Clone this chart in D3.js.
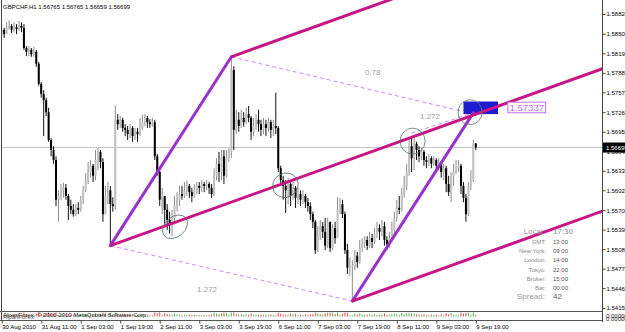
<!DOCTYPE html>
<html>
<head>
<meta charset="utf-8">
<script src="https://cdn.jsdelivr.net/npm/d3@7"></script>
<style>
body { margin: 0; background: #fff; }
svg text { font-family: "Liberation Sans", Arial, sans-serif; }
</style>
</head>
<body>
<div class="chart"></div>
<script>
// GBPCHF H1 bars, 30 Aug 2010 19:00 .. 9 Sep 2010 19:00
var opens = [
  1.5853, 1.5857, 1.5850, 1.5860, 1.5863, 1.5857, 1.5861, 1.5858, 1.5863, 1.5860,
  1.5828, 1.5822, 1.5825, 1.5818, 1.5822, 1.5803, 1.5771, 1.5755, 1.5745, 1.5726,
  1.5682, 1.5666, 1.5650, 1.5587, 1.5593, 1.5602, 1.5606, 1.5593, 1.5577, 1.5571,
  1.5564, 1.5574, 1.5571, 1.5587, 1.5602, 1.5618, 1.5631, 1.5641, 1.5625, 1.5650,
  1.5663, 1.5647, 1.5564, 1.5593, 1.5602, 1.5580, 1.5577, 1.5714, 1.5707, 1.5714,
  1.5701, 1.5698, 1.5691, 1.5701, 1.5688, 1.5695, 1.5691, 1.5701, 1.5710, 1.5717,
  1.5710, 1.5707, 1.5710, 1.5656, 1.5631, 1.5587, 1.5593, 1.5571, 1.5555, 1.5548,
  1.5558, 1.5577, 1.5587, 1.5596, 1.5593, 1.5602, 1.5609, 1.5599, 1.5593, 1.5602,
  1.5609, 1.5606, 1.5612, 1.5609, 1.5612, 1.5606, 1.5596, 1.5625, 1.5644, 1.5631,
  1.5656, 1.5625, 1.5653, 1.5663, 1.5793, 1.5698, 1.5714, 1.5704, 1.5717, 1.5710,
  1.5723, 1.5717, 1.5695, 1.5704, 1.5714, 1.5707, 1.5698, 1.5707, 1.5701, 1.5710,
  1.5698, 1.5704, 1.5701, 1.5637, 1.5618, 1.5609, 1.5602, 1.5612, 1.5593, 1.5606,
  1.5590, 1.5596, 1.5587, 1.5593, 1.5583, 1.5577, 1.5564, 1.5552, 1.5507, 1.5529,
  1.5545, 1.5536, 1.5514, 1.5552, 1.5510, 1.5542, 1.5526, 1.5571, 1.5580, 1.5564,
  1.5507, 1.5479, 1.5482, 1.5482, 1.5498, 1.5488, 1.5510, 1.5517, 1.5523, 1.5514,
  1.5526, 1.5520, 1.5533, 1.5542, 1.5536, 1.5545, 1.5523, 1.5517, 1.5526, 1.5539,
  1.5558, 1.5574, 1.5571, 1.5596, 1.5609, 1.5631, 1.5672, 1.5653, 1.5676, 1.5666,
  1.5656, 1.5663, 1.5650, 1.5647, 1.5653, 1.5644, 1.5650, 1.5641, 1.5644, 1.5631,
  1.5637, 1.5612, 1.5599, 1.5625, 1.5631, 1.5637, 1.5641, 1.5609, 1.5590, 1.5564,
  1.5609, 1.5618, 1.56765
];
var highs = [
  1.5866, 1.5860, 1.5869, 1.5872, 1.5866, 1.5869, 1.5866, 1.5871, 1.5869, 1.5866,
  1.5831, 1.5831, 1.5828, 1.5830, 1.5825, 1.5806, 1.5774, 1.5761, 1.5749, 1.5733,
  1.5685, 1.5672, 1.5656, 1.5602, 1.5612, 1.5614, 1.5612, 1.5596, 1.5587, 1.5580,
  1.5580, 1.5583, 1.5593, 1.5609, 1.5629, 1.5647, 1.5650, 1.5644, 1.5666, 1.5669,
  1.5666, 1.5653, 1.5609, 1.5615, 1.5609, 1.5591, 1.5737, 1.5723, 1.5720, 1.5717,
  1.5707, 1.5704, 1.5707, 1.5704, 1.5701, 1.5701, 1.5717, 1.5722, 1.5723, 1.5720,
  1.5715, 1.5717, 1.5714, 1.5660, 1.5634, 1.5606, 1.5593, 1.5580, 1.5568, 1.5571,
  1.5593, 1.5599, 1.5609, 1.5609, 1.5615, 1.5618, 1.5612, 1.5606, 1.5612, 1.5615,
  1.5615, 1.5618, 1.5615, 1.5618, 1.5615, 1.5612, 1.5637, 1.5653, 1.5663, 1.5666,
  1.5666, 1.5666, 1.5669, 1.5814, 1.5799, 1.5730, 1.5726, 1.5730, 1.5726, 1.5733,
  1.5736, 1.5720, 1.5717, 1.5723, 1.5730, 1.5714, 1.5717, 1.5714, 1.5717, 1.5714,
  1.5714, 1.5757, 1.5704, 1.5641, 1.5625, 1.5618, 1.5622, 1.5615, 1.5618, 1.5609,
  1.5606, 1.5602, 1.5602, 1.5596, 1.5590, 1.5583, 1.5568, 1.5555, 1.5545, 1.5555,
  1.5552, 1.5558, 1.5558, 1.5552, 1.5548, 1.5552, 1.5591, 1.5590, 1.5587, 1.5568,
  1.5517, 1.5495, 1.5491, 1.5507, 1.5504, 1.5523, 1.5526, 1.5529, 1.5529, 1.5536,
  1.5533, 1.5542, 1.5552, 1.5548, 1.5555, 1.5552, 1.5529, 1.5536, 1.5552, 1.5568,
  1.5587, 1.5593, 1.5606, 1.5625, 1.5644, 1.5682, 1.5687, 1.5685, 1.5679, 1.5672,
  1.5669, 1.5666, 1.5656, 1.5660, 1.5656, 1.5656, 1.5653, 1.5653, 1.5647, 1.5644,
  1.5641, 1.5625, 1.5631, 1.5644, 1.5650, 1.5650, 1.5644, 1.5615, 1.5596, 1.5615,
  1.5634, 1.5682, 1.56765
];
var lows = [
  1.5847, 1.5844, 1.5850, 1.5857, 1.5852, 1.5853, 1.5850, 1.5855, 1.5853, 1.5825,
  1.5815, 1.5815, 1.5814, 1.5814, 1.5798, 1.5768, 1.5749, 1.5688, 1.5720, 1.5679,
  1.5656, 1.5644, 1.5577, 1.5552, 1.5587, 1.5590, 1.5587, 1.5555, 1.5564, 1.5560,
  1.5561, 1.5564, 1.5568, 1.5580, 1.5599, 1.5612, 1.5622, 1.5615, 1.5618, 1.5634,
  1.5637, 1.5552, 1.5564, 1.5580, 1.5514, 1.5568, 1.5571, 1.5698, 1.5701, 1.5695,
  1.5688, 1.5682, 1.5685, 1.5679, 1.5682, 1.5679, 1.5688, 1.5698, 1.5704, 1.5701,
  1.5701, 1.5703, 1.5650, 1.5625, 1.5577, 1.5564, 1.5545, 1.5539, 1.5533, 1.5529,
  1.5548, 1.5568, 1.5577, 1.5587, 1.5590, 1.5593, 1.5590, 1.5583, 1.5590, 1.5596,
  1.5596, 1.5599, 1.5599, 1.5602, 1.5596, 1.5590, 1.5593, 1.5618, 1.5615, 1.5618,
  1.5612, 1.5622, 1.5647, 1.5653, 1.5666, 1.5691, 1.5695, 1.5701, 1.5703, 1.5707,
  1.5710, 1.5682, 1.5688, 1.5698, 1.5695, 1.5688, 1.5691, 1.5688, 1.5695, 1.5685,
  1.5688, 1.5691, 1.5631, 1.5609, 1.5587, 1.5566, 1.5580, 1.5577, 1.5587, 1.5574,
  1.5580, 1.5577, 1.5580, 1.5574, 1.5568, 1.5555, 1.5542, 1.5501, 1.5504, 1.5523,
  1.5526, 1.5507, 1.5510, 1.5504, 1.5507, 1.5517, 1.5526, 1.5564, 1.5558, 1.5501,
  1.5469, 1.5466, 1.5426, 1.5475, 1.5479, 1.5485, 1.5504, 1.5510, 1.5507, 1.5510,
  1.5510, 1.5517, 1.5526, 1.5523, 1.5529, 1.5514, 1.5507, 1.5510, 1.5523, 1.5529,
  1.5552, 1.5564, 1.5568, 1.5590, 1.5602, 1.5625, 1.5631, 1.5634, 1.5650, 1.5647,
  1.5650, 1.5641, 1.5637, 1.5641, 1.5637, 1.5641, 1.5631, 1.5634, 1.5622, 1.5618,
  1.5599, 1.5593, 1.5583, 1.5609, 1.5628, 1.5631, 1.5596, 1.5583, 1.5552, 1.5561,
  1.5602, 1.5615, 1.56659
];
var closes = [
  1.5857, 1.5850, 1.5860, 1.5863, 1.5857, 1.5861, 1.5858, 1.5863, 1.5860, 1.5828,
  1.5822, 1.5825, 1.5818, 1.5822, 1.5803, 1.5771, 1.5755, 1.5745, 1.5726, 1.5682,
  1.5666, 1.5650, 1.5587, 1.5593, 1.5602, 1.5606, 1.5593, 1.5577, 1.5571, 1.5564,
  1.5574, 1.5571, 1.5587, 1.5602, 1.5618, 1.5631, 1.5641, 1.5625, 1.5650, 1.5663,
  1.5647, 1.5564, 1.5593, 1.5602, 1.5580, 1.5577, 1.5714, 1.5707, 1.5714, 1.5701,
  1.5698, 1.5691, 1.5701, 1.5688, 1.5695, 1.5691, 1.5701, 1.5710, 1.5717, 1.5710,
  1.5707, 1.5710, 1.5656, 1.5631, 1.5587, 1.5593, 1.5571, 1.5555, 1.5548, 1.5558,
  1.5577, 1.5587, 1.5596, 1.5593, 1.5602, 1.5609, 1.5599, 1.5593, 1.5602, 1.5609,
  1.5606, 1.5612, 1.5609, 1.5612, 1.5606, 1.5596, 1.5625, 1.5644, 1.5631, 1.5656,
  1.5625, 1.5653, 1.5663, 1.5793, 1.5698, 1.5714, 1.5704, 1.5717, 1.5710, 1.5723,
  1.5717, 1.5695, 1.5704, 1.5714, 1.5707, 1.5698, 1.5707, 1.5701, 1.5710, 1.5698,
  1.5704, 1.5701, 1.5637, 1.5618, 1.5609, 1.5602, 1.5612, 1.5593, 1.5606, 1.5590,
  1.5596, 1.5587, 1.5593, 1.5583, 1.5577, 1.5564, 1.5552, 1.5507, 1.5529, 1.5545,
  1.5536, 1.5514, 1.5552, 1.5510, 1.5542, 1.5526, 1.5571, 1.5580, 1.5564, 1.5507,
  1.5479, 1.5482, 1.5482, 1.5498, 1.5488, 1.5510, 1.5517, 1.5523, 1.5514, 1.5526,
  1.5520, 1.5533, 1.5542, 1.5536, 1.5545, 1.5523, 1.5517, 1.5526, 1.5539, 1.5558,
  1.5574, 1.5571, 1.5596, 1.5609, 1.5631, 1.5672, 1.5653, 1.5676, 1.5666, 1.5656,
  1.5663, 1.5650, 1.5647, 1.5653, 1.5644, 1.5650, 1.5641, 1.5644, 1.5631, 1.5637,
  1.5612, 1.5599, 1.5625, 1.5631, 1.5637, 1.5641, 1.5609, 1.5590, 1.5564, 1.5609,
  1.5618, 1.56765, 1.56699
];

// time axis: one label every 16 bars
var timeTickBars = [0, 16, 32, 48, 64, 80, 96, 112, 128, 144, 160, 176, 192];
var timeLabels = ["30 Aug 2010", "31 Aug 11:00", "1 Sep 03:00", "1 Sep 19:00", "2 Sep 11:00",
  "3 Sep 03:00", "3 Sep 19:00", "6 Sep 11:00", "7 Sep 03:00", "7 Sep 19:00",
  "8 Sep 11:00", "9 Sep 03:00", "9 Sep 19:00"];

// price axis labels
var priceTicks = [1.58820, 1.58505, 1.58195, 1.57885, 1.57575, 1.57260, 1.56950, 1.56640,
  1.56330, 1.56020, 1.55705, 1.55395, 1.55085, 1.54775, 1.54465, 1.54150];

// hand drawn objects, in (bar, price)
var pointA = {bar: 44, price: 1.5514};
var pointB = {bar: 93, price: 1.5814};
var pointC = {bar: 142, price: 1.5426};
var pointD = {bar: 191, price: 1.5725};
var medianEnd = {bar: 190, price: 1.5720};
var fibLines = [
  [pointB, {bar: 187, price: 1.5727}],
  [pointA, pointC],
  [{bar: 166, price: 1.5693}, pointD]
];
var fibLabels = [
  {text: "0.78", bar: 147.1, price: 1.5785},
  {text: "1.272", bar: 79.1, price: 1.5441},
  {text: "1.272", bar: 169.4, price: 1.5716}
];
var circled = [
  {bar: 70.2, price: 1.5544},
  {bar: 114.9, price: 1.5610},
  {bar: 166.4, price: 1.5680},
  {bar: 189.7, price: 1.5726}
];
var targetZone = {barFrom: 187, barTo: 201, priceHigh: 1.5743, priceLow: 1.5723};
var targetPrice = 1.57337;

// clock panel
var clockLabels = ["GMT:", "New York:", "London:", "Tokyo:", "Broker:", "Bar:"];
var clockValues = ["13:00", "09:00", "14:00", "22:00", "15:00", "00:00"];
var localTime = "17:30";
var spread = "42";

var symbolTitle = "GBPCHF,H1";

var plotLeft = 2, plotRight = 602, plotBottom = 311, subBottom = 320;

var svg = d3.select(".chart").append("svg")
  .attr("width", 625).attr("height", 332);

var x = d3.scaleLinear().domain([0, 192]).range([1.7, 475.8]);
var y = d3.scaleLinear().domain([1.54150, 1.58820]).range([308, 14]);

svg.append("defs").append("clipPath").attr("id", "plotclip")
  .append("rect").attr("x", plotLeft).attr("y", 0)
  .attr("width", plotRight - plotLeft).attr("height", plotBottom);

var plot = svg.append("g").attr("clip-path", "url(#plotclip)");

var bars = closes.map(function(c, i) {
  return {i: i, o: opens[i], h: highs[i], l: lows[i], c: c};
});
var last = bars[bars.length - 1];

// bid line
plot.append("line")
  .attr("x1", plotLeft).attr("x2", plotRight)
  .attr("y1", y(last.c)).attr("y2", y(last.c))
  .attr("stroke", "#c8c8c8").attr("stroke-width", 1);

// candles
var candle = plot.selectAll("g.candle")
  .data(bars)
  .enter().append("g").attr("class", "candle");

candle.append("line")
  .attr("x1", function(d) { return x(d.i); })
  .attr("x2", function(d) { return x(d.i); })
  .attr("y1", function(d) { return y(d.h); })
  .attr("y2", function(d) { return y(d.l); })
  .attr("stroke", function(d) { return d.c >= d.o ? "#8c8c8c" : "#111"; })
  .attr("stroke-width", 1);

candle.append("rect")
  .attr("x", function(d) { return x(d.i) - 1; })
  .attr("width", 2)
  .attr("y", function(d) { return y(Math.max(d.o, d.c)); })
  .attr("height", function(d) { return Math.max(1, Math.abs(y(d.o) - y(d.c))); })
  .attr("fill", function(d) { return d.c >= d.o ? "#c0c0c0" : "#000"; });

// target zone
plot.append("rect")
  .attr("x", x(targetZone.barFrom)).attr("width", x(targetZone.barTo) - x(targetZone.barFrom))
  .attr("y", y(targetZone.priceHigh)).attr("height", y(targetZone.priceLow) - y(targetZone.priceHigh))
  .attr("fill", "#1c1ccc");

// fib dashed lines
plot.selectAll("line.fib")
  .data(fibLines)
  .enter().append("line")
  .attr("x1", function(d) { return x(d[0].bar); })
  .attr("y1", function(d) { return y(d[0].price); })
  .attr("x2", function(d) { return x(d[1].bar); })
  .attr("y2", function(d) { return y(d[1].price); })
  .attr("stroke", "#c88cf0").attr("stroke-width", 1)
  .attr("stroke-dasharray", "4,3");

plot.selectAll("text.fib")
  .data(fibLabels)
  .enter().append("text")
  .attr("x", function(d) { return x(d.bar); })
  .attr("y", function(d) { return y(d.price); })
  .attr("font-size", 8).attr("fill", "#a0a0a0")
  .text(function(d) { return d.text; });

// swing legs
plot.selectAll("line.leg")
  .data([[pointA, pointB], [pointC, pointD]])
  .enter().append("line")
  .attr("x1", function(d) { return x(d[0].bar); })
  .attr("y1", function(d) { return y(d[0].price); })
  .attr("x2", function(d) { return x(d[1].bar); })
  .attr("y2", function(d) { return y(d[1].price); })
  .attr("stroke", "#9932cc").attr("stroke-width", 3)
  .attr("stroke-linecap", "round");

// parallel channel from A, B and C
var slope = (medianEnd.price - pointA.price) / (medianEnd.bar - pointA.bar);
var farBar = 250;
plot.selectAll("line.channel")
  .data([pointA, pointB, pointC])
  .enter().append("line")
  .attr("x1", function(d) { return x(d.bar); })
  .attr("y1", function(d) { return y(d.price); })
  .attr("x2", x(farBar))
  .attr("y2", function(d) { return y(d.price + slope * (farBar - d.bar)); })
  .attr("stroke", "#c71585").attr("stroke-width", 3);

// circled spots
var ellipseShapes = [
  {rx: 14, ry: 10, rot: -40},
  {rx: 13, ry: 12, rot: -30},
  {rx: 12.5, ry: 13, rot: 0},
  {rx: 12, ry: 12.5, rot: 0}
];
plot.selectAll("ellipse")
  .data(circled)
  .enter().append("ellipse")
  .attr("transform", function(d, i) {
    return "translate(" + x(d.bar) + "," + y(d.price) + ") rotate(" + ellipseShapes[i].rot + ")";
  })
  .attr("rx", function(d, i) { return ellipseShapes[i].rx; })
  .attr("ry", function(d, i) { return ellipseShapes[i].ry; })
  .attr("fill", "none").attr("stroke", "#5a7474").attr("stroke-width", 0.8);

// target price tag
var tag = plot.append("g");
var tagText = tag.append("text")
  .attr("x", x(204.8) + 2).attr("y", y(targetPrice) + 3.6)
  .attr("font-size", 9.6).attr("fill", "#c070f0")
  .text(d3.format(".5f")(targetPrice));
var bb = tagText.node().getBBox();
tag.insert("rect", "text")
  .attr("x", bb.x - 1.5).attr("y", y(targetPrice) - 5.2)
  .attr("width", bb.width + 3).attr("height", 10.6)
  .attr("fill", "#fff").attr("stroke", "#c070f0").attr("stroke-width", 1);

// small histogram in the sub window
var h = d3.scaleLinear().domain([0, 0.003]).range([1, 4]).clamp(true);
svg.append("g").selectAll("line")
  .data(bars)
  .enter().append("line")
  .attr("x1", function(d) { return x(d.i); })
  .attr("x2", function(d) { return x(d.i); })
  .attr("y1", 316.5)
  .attr("y2", function(d) { return 316.5 - h(Math.abs(d.c - d.o)); })
  .attr("stroke", function(d) { return d.c >= d.o ? "#22aa22" : "#e02020"; })
  .attr("stroke-width", 0.8);

svg.append("text").attr("x", 3).attr("y", 316.5)
  .attr("font-size", 6).attr("fill", "#222")
  .text("AlpariForex, \u00a9 2001-2010 MetaQuotes Software Corp.");
svg.append("text").attr("x", 3).attr("y", 318.5)
  .attr("font-size", 6).attr("fill", "#555")
  .text("AlpariForex");

// frame
svg.append("line").attr("x1", 1.5).attr("x2", 1.5).attr("y1", 0).attr("y2", subBottom)
  .attr("stroke", "#444");
svg.selectAll("line.hframe")
  .data([plotBottom + 0.5, subBottom + 0.5])
  .enter().append("line")
  .attr("x1", 0).attr("x2", plotRight)
  .attr("y1", function(d) { return d; }).attr("y2", function(d) { return d; })
  .attr("stroke", "#555");
svg.append("line").attr("x1", plotRight + 0.5).attr("x2", plotRight + 0.5)
  .attr("y1", 0).attr("y2", subBottom + 2).attr("stroke", "#444");

// price axis
var yAxis = d3.axisRight(y).tickValues(priceTicks).tickSize(3)
  .tickFormat(d3.format(".5f"));
var yAxisGroup = svg.append("g")
  .attr("transform", "translate(" + (plotRight + 0.5) + ",0)")
  .call(yAxis);
yAxisGroup.select(".domain").remove();
yAxisGroup.selectAll("line").attr("stroke", "#444");
yAxisGroup.selectAll("text").attr("x", 4).attr("font-size", 6)
  .attr("font-family", "Liberation Sans, Arial, sans-serif").attr("fill", "#000");

// bid tag on the axis
svg.append("rect").attr("x", plotRight + 1).attr("y", y(last.c) - 5)
  .attr("width", 22).attr("height", 10).attr("fill", "#000");
svg.append("text").attr("x", plotRight + 4).attr("y", y(last.c) + 2.2)
  .attr("font-size", 6).attr("fill", "#fff")
  .text(d3.format(".5f")(last.c));

// sub window scale
svg.selectAll("text.sub")
  .data([318, 321])
  .enter().append("text")
  .attr("x", 606).attr("y", function(d) { return d; })
  .attr("font-size", 6).attr("fill", "#222")
  .text("0.00000");

// time axis
var xAxis = d3.axisBottom(x).tickValues(timeTickBars).tickSize(3)
  .tickFormat(function(d, i) { return timeLabels[i]; });
var xAxisGroup = svg.append("g")
  .attr("transform", "translate(0," + (subBottom + 0.5) + ")")
  .call(xAxis);
xAxisGroup.select(".domain").remove();
xAxisGroup.selectAll("line").attr("stroke", "#444");
xAxisGroup.selectAll("text").attr("text-anchor", "start").attr("y", 4.5)
  .attr("font-size", 6).attr("font-family", "Liberation Sans, Arial, sans-serif")
  .attr("fill", "#000");

// symbol header
svg.append("text").attr("x", 3).attr("y", 9)
  .attr("font-size", 6).attr("fill", "#000")
  .text(symbolTitle + " " + [last.o, last.h, last.l, last.c].map(d3.format(".5f")).join(" "));

// clock panel
var panel = svg.append("g");
panel.append("text").attr("x", 545).attr("y", 234).attr("text-anchor", "end")
  .attr("font-size", 8).attr("fill", "#9a9a9a").text("Local:");
panel.append("text").attr("x", 553).attr("y", 234)
  .attr("font-size", 8).attr("fill", "#8a8a8a").text(localTime);
panel.selectAll("text.cl")
  .data(clockLabels)
  .enter().append("text")
  .attr("x", 546).attr("y", function(d, i) { return 243.5 + i * 9.35; })
  .attr("text-anchor", "end").attr("font-size", 6).attr("fill", "#8a8a8a")
  .text(function(d) { return d; });
panel.selectAll("text.cv")
  .data(clockValues)
  .enter().append("text")
  .attr("x", 553).attr("y", function(d, i) { return 243.5 + i * 9.35; })
  .attr("font-size", 6).attr("fill", "#555")
  .text(function(d) { return d; });
panel.append("text").attr("x", 545).attr("y", 299).attr("text-anchor", "end")
  .attr("font-size", 8).attr("fill", "#9a9a9a").text("Spread:");
panel.append("text").attr("x", 553).attr("y", 299)
  .attr("font-size", 8).attr("fill", "#666").text(spread);
</script>
</body>
</html>
